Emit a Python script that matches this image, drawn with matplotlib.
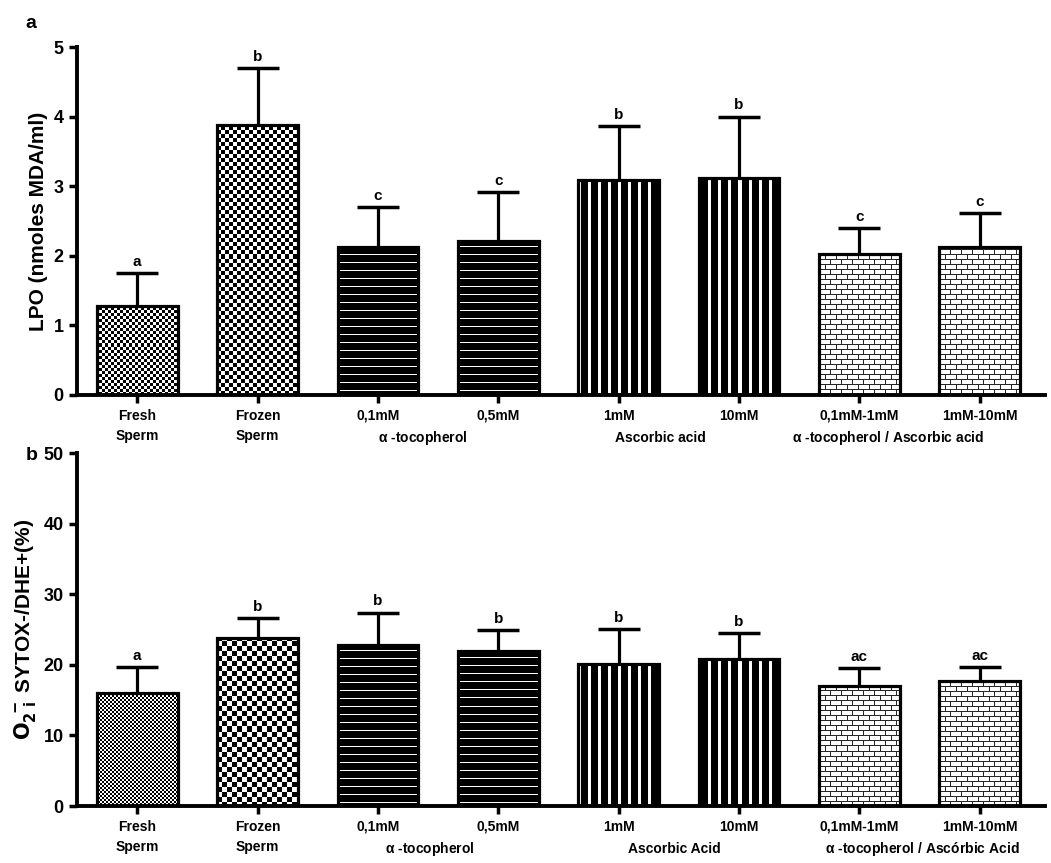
import matplotlib
matplotlib.use('Agg')
import matplotlib.pyplot as plt
import numpy as np

plt.rcParams['font.family'] = ['Liberation Sans', 'DejaVu Sans']
plt.rcParams['font.weight'] = 'bold'
plt.rcParams['mathtext.default'] = 'regular'

groups = ['Fresh\nSperm', 'Frozen\nSperm', '0,1mM', '0,5mM', '1mM', '10mM', '0,1mM-1mM', '1mM-10mM']
patterns = ['fine', 'coarse', 'hlines', 'hlines', 'vlines', 'vlines', 'bricks', 'bricks']

lpo_mean = [1.28, 3.88, 2.12, 2.22, 3.09, 3.12, 2.02, 2.12]
lpo_err = [0.47, 0.82, 0.58, 0.70, 0.78, 0.88, 0.38, 0.49]
lpo_letters = ['a', 'b', 'c', 'c', 'b', 'b', 'c', 'c']

o2_mean = [16.0, 23.8, 22.8, 22.0, 20.1, 20.8, 17.0, 17.7]
o2_err = [3.7, 2.8, 4.6, 2.9, 5.0, 3.7, 2.5, 2.0]
o2_letters = ['a', 'b', 'b', 'b', 'b', 'b', 'ac', 'ac']

top_groups = ['$\\alpha$ -tocopherol', 'Ascorbic acid', '$\\alpha$ -tocopherol / Ascorbic acid']
top_group_pos = [2.37, 4.35, 6.24]
bot_groups = ['$\\alpha$ -tocopherol', 'Ascorbic Acid', '$\\alpha$ -tocopherol / Ascórbic Acid']
bot_group_pos = [2.43, 4.46, 6.52]


def pattern(kind, w, h, fine, coarse):
    yy, xx = np.mgrid[0:h, 0:w]
    if kind == 'fine':
        return ((xx // fine + yy // fine) % 2).astype(float)
    if kind == 'coarse':
        return ((xx // coarse + yy // coarse) % 2).astype(float)
    if kind == 'hlines':
        return (yy % 8 != 4).astype(float)
    if kind == 'vlines':
        return (xx % 10 >= 3).astype(float)
    row = yy // 5
    m = (yy % 5 == 0) | ((xx + 5 * (row % 2)) % 11 == 0)
    return m.astype(float) * 0.85


def panel(ax, means, errs, letters, ymax, yticks, ylabel, glabels, gpos, fine, coarse):
    x = np.arange(len(means))
    ax.set_xlim(-0.5, 7.54)
    ax.set_ylim(0, ymax)
    bars = ax.bar(x, means, width=0.67, facecolor='none', edgecolor='black',
                  linewidth=2.3, zorder=3)
    inv = ax.transData.inverted()
    for b, kind in zip(bars, patterns):
        p0 = ax.transData.transform((b.get_x(), 0))
        p1 = ax.transData.transform((b.get_x() + b.get_width(), b.get_height()))
        p0 = np.floor(p0)
        p1 = np.ceil(p1)
        w, h = int(p1[0] - p0[0]), int(p1[1] - p0[1])
        d0 = inv.transform(p0)
        d1 = inv.transform(p1)
        im = ax.imshow(pattern(kind, w, h, fine, coarse), cmap='gray_r', vmin=0, vmax=1,
                       extent=(d0[0], d1[0], d0[1], d1[1]), aspect='auto',
                       interpolation='nearest', origin='lower', zorder=2)
        im.set_clip_path(b)
    eb = ax.errorbar(x, means, yerr=[np.zeros(len(errs)), errs], fmt='none',
                     ecolor='black', elinewidth=2.3, capsize=15, capthick=2.5,
                     zorder=1)
    eb[1][0].set_visible(False)
    for xi, m, e, t in zip(x, means, errs, letters):
        ax.annotate(t, (xi, m + e), xytext=(0, 3), textcoords='offset points',
                    ha='center', va='bottom', fontsize=11, fontweight='bold')
    ax.set_xlim(-0.5, 7.54)
    ax.set_ylim(0, ymax)
    ax.set_yticks(yticks)
    ax.set_xticks(x)
    ax.set_xticklabels(groups, fontsize=10, fontweight='bold', linespacing=1.55)
    ax.tick_params(axis='y', labelsize=13, width=2.5, length=6, direction='out')
    ax.tick_params(axis='x', width=2.5, length=6, direction='out', pad=4)
    for lab in ax.get_yticklabels():
        lab.set_fontweight('bold')
    for s in ['top', 'right']:
        ax.spines[s].set_visible(False)
    for s in ['left', 'bottom']:
        ax.spines[s].set_linewidth(2.8)
    ax.set_ylabel(ylabel, fontsize=15, fontweight='bold', labelpad=4)
    for gx, gl in zip(gpos, glabels):
        ax.annotate(gl, (gx, 0), xycoords=('data', 'axes fraction'),
                    xytext=(0, -31), textcoords='offset points', ha='center',
                    va='center', fontsize=10, fontweight='bold')


fig = plt.figure(figsize=(10.51, 8.63), dpi=100)
ax1 = fig.add_axes([0.0733, 0.5423, 0.9207, 0.4032])
ax2 = fig.add_axes([0.0733, 0.066, 0.9207, 0.409])

panel(ax1, lpo_mean, lpo_err, lpo_letters, 5, [0, 1, 2, 3, 4, 5],
      'LPO (nmoles MDA/ml)', top_groups, top_group_pos, 3, 4)
panel(ax2, o2_mean, o2_err, o2_letters, 50, [0, 10, 20, 30, 40, 50],
      '$\\mathbf{O_{2\\ i}^{\\ -}}$ SYTOX-/DHE+(%)', bot_groups, bot_group_pos, 2, 5)

fig.text(0.024, 0.983, 'a', fontsize=14, fontweight='bold', va='top')
fig.text(0.024, 0.482, 'b', fontsize=14, fontweight='bold', va='top')

fig.savefig('out.png', dpi=100)
